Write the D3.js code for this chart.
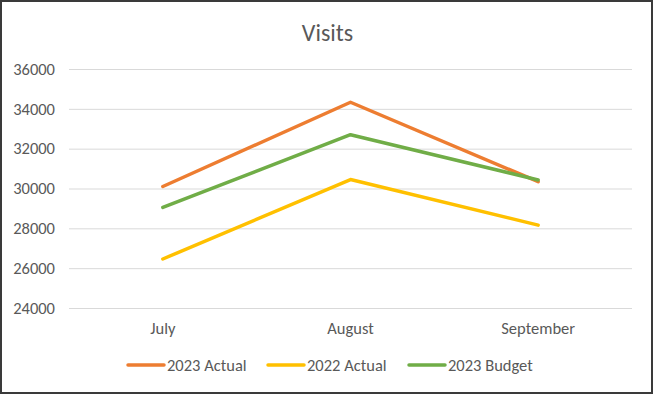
<!DOCTYPE html>
<html>
<head>
<meta charset="utf-8">
<script src="https://cdn.jsdelivr.net/npm/d3@7"></script>
<style>
  html, body { margin: 0; padding: 0; background: #fff; }
  svg { display: block; font-family: Calibri, Carlito, "Open Sans", "Noto Sans", sans-serif; }
</style>
</head>
<body>
<svg id="chart" width="655" height="395"></svg>
<script>
// chart data
const months = ["July", "August", "September"];
const actual2023 = [30100, 34330, 30340];
const actual2022 = [26460, 30450, 28160];
const budget2023 = [29050, 32700, 30430];
const seriesNames = ["2023 Actual", "2022 Actual", "2023 Budget"];
const seriesColors = ["#ED7D31", "#FFC000", "#70AD47"];
const yTicks = [24000, 26000, 28000, 30000, 32000, 34000, 36000];

const W = 655, H = 395;
const margin = { left: 69, right: 23, top: 69, bottom: 87 };
const FONT = "Calibri, Carlito, 'Open Sans', 'Noto Sans', sans-serif";

const svg = d3.select("#chart");

// frame
svg.append("rect")
  .attr("x", 1).attr("y", 1)
  .attr("width", W - 4).attr("height", H - 3)
  .attr("fill", "#fff")
  .attr("stroke", "#3a3a3a")
  .attr("stroke-width", 2);

// scales
const x = d3.scaleBand().domain(months)
  .range([margin.left, W - margin.right]);
const y = d3.scaleLinear().domain([24000, 36000])
  .range([H - margin.bottom, margin.top]);

// title
svg.append("text")
  .attr("x", W / 2).attr("y", 41)
  .attr("text-anchor", "middle")
  .attr("font-size", 24)
  .attr("fill", "#595959")
  .text("Visits");

// y axis with gridlines
const yAxis = svg.append("g")
  .attr("transform", `translate(${margin.left},0)`)
  .call(d3.axisLeft(y).tickValues(yTicks).tickSize(-(W - margin.left - margin.right)).tickPadding(14).tickFormat(d3.format("d")));
yAxis.select(".domain").remove();
yAxis.selectAll("line").attr("stroke", "#d9d9d9").attr("stroke-width", 1);
yAxis.selectAll("text").attr("font-size", 16.5).attr("fill", "#595959")
  .attr("font-family", FONT);

// x axis labels
const xAxis = svg.append("g")
  .attr("transform", `translate(0,${H - margin.bottom})`)
  .call(d3.axisBottom(x).tickSize(0).tickPadding(14));
xAxis.select(".domain").remove();
xAxis.selectAll("text").attr("font-size", 16.5).attr("fill", "#595959")
  .attr("font-family", FONT);

// lines
const allSeries = [actual2023, actual2022, budget2023];
const line = d3.line()
  .x((d, i) => x(months[i]) + x.bandwidth() / 2)
  .y(d => y(d));

allSeries.forEach((vals, i) => {
  svg.append("path")
    .datum(vals)
    .attr("d", line)
    .attr("fill", "none")
    .attr("stroke", seriesColors[i])
    .attr("stroke-width", 3.5)
    .attr("stroke-linejoin", "round")
    .attr("stroke-linecap", "round");
});

// legend
const legendX = [128, 268, 409];
const legend = svg.append("g");
seriesNames.forEach((name, i) => {
  legend.append("line")
    .attr("x1", legendX[i]).attr("x2", legendX[i] + 36)
    .attr("y1", 365).attr("y2", 365)
    .attr("stroke", seriesColors[i])
    .attr("stroke-width", 3.5)
    .attr("stroke-linecap", "round");
  legend.append("text")
    .attr("x", legendX[i] + 39).attr("y", 371)
    .attr("font-size", 16.5)
    .attr("fill", "#595959")
    .text(name);
});
</script>
</body>
</html>
